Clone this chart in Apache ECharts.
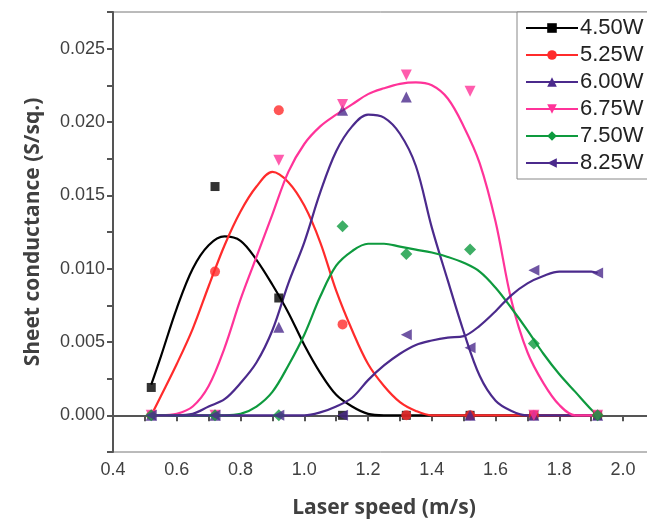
<!DOCTYPE html>
<html>
<head>
<meta charset="utf-8">
<script src="https://cdn.jsdelivr.net/npm/echarts@6/dist/echarts.min.js"></script>
<style>
  html, body { margin: 0; padding: 0; background: #fff; }
  #chart { width: 647px; height: 523px; }
</style>
</head>
<body>
<div id="chart"></div>
<script>
// 测量点 (laser speed, m/s)
var speeds = [0.52, 0.72, 0.92, 1.12, 1.32, 1.52, 1.72, 1.92];
var names = ['4.50W', '5.25W', '6.00W', '6.75W', '7.50W', '8.25W'];

// 测量值 sheet conductance (S/sq.)
var pts450 = [0.0019, 0.0156, 0.0080, 0, 0, 0, 0, 0];
var pts525 = [0, 0.0098, 0.0208, 0.0062, 0, 0, 0, 0];
var pts600 = [0, 0, 0.0060, 0.0208, 0.0217, 0, 0, 0];
var pts675 = [0, 0, 0.0174, 0.0212, 0.0232, 0.0221, 0, 0];
var pts750 = [0, 0, 0, 0.0129, 0.0110, 0.0113, 0.0049, 0];
var pts825 = [0, 0, 0, 0, 0.0055, 0.0046, 0.0099, 0.0097];

// 拟合曲线
var fitX = [0.52, 0.55, 0.60, 0.65, 0.70, 0.75, 0.80, 0.85, 0.90, 0.95, 1.00, 1.05, 1.10, 1.15, 1.20,
  1.25, 1.30, 1.35, 1.40, 1.45, 1.50, 1.55, 1.60, 1.65, 1.70, 1.75, 1.80, 1.85, 1.90, 1.92];
var fit450 = [0.0021, 0.0040, 0.0073, 0.0100, 0.0116, 0.0122, 0.0119, 0.0106, 0.0089, 0.0070, 0.0048, 0.0029, 0.0014, 0.0006, 0.0001,
  0, 0, 0, 0, 0, 0, 0, 0, 0, 0, 0, 0, 0, 0, 0];
var fit525 = [0, 0.0013, 0.0035, 0.0059, 0.0088, 0.0116, 0.0139, 0.0156, 0.0166, 0.0159, 0.0143, 0.0118, 0.0085, 0.0058, 0.0035,
  0.0020, 0.0009, 0.0003, 0, 0, 0, 0, 0, 0, 0, 0, 0, 0, 0, 0];
var fit600 = [0, 0, 0, 0.0001, 0.0006, 0.0011, 0.0022, 0.0036, 0.0058, 0.0090, 0.0118, 0.0152, 0.0180, 0.0197, 0.0205,
  0.0203, 0.0192, 0.0170, 0.0128, 0.0092, 0.0057, 0.0027, 0.0010, 0.0003, 0, 0, 0, 0, 0, 0];
var fit675 = [0, 0, 0.0001, 0.0006, 0.0020, 0.0046, 0.0079, 0.0108, 0.0137, 0.0166, 0.0185, 0.0197, 0.0205, 0.0212, 0.0219,
  0.0223, 0.0226, 0.0227, 0.0225, 0.0216, 0.0197, 0.0172, 0.0132, 0.0078, 0.0043, 0.0022, 0.0007, 0, 0, 0];
var fit750 = [0, 0, 0, 0, 0, 0, 0.0001, 0.0006, 0.0016, 0.0034, 0.0055, 0.0081, 0.0102, 0.0112, 0.0117,
  0.0117, 0.0115, 0.0113, 0.0111, 0.0108, 0.0104, 0.0098, 0.0087, 0.0073, 0.0058, 0.0042, 0.0028, 0.0016, 0.0004, 0];
var fit825 = [0, 0, 0, 0, 0, 0, 0, 0, 0, 0, 0, 0.0002, 0.0006, 0.0012, 0.0024,
  0.0034, 0.0042, 0.0048, 0.0051, 0.0053, 0.0054, 0.0061, 0.0071, 0.0082, 0.0090, 0.0095, 0.0098, 0.0098, 0.0098, 0.0097];

var xTicks = ['0.4', '0.6', '0.8', '1.0', '1.2', '1.4', '1.6', '1.8', '2.0'];

var pts = [pts450, pts525, pts600, pts675, pts750, pts825];
var fits = [fit450, fit525, fit600, fit675, fit750, fit825];
var colors = ['#000000', '#ff2b2b', '#4b2a8c', '#ff3399', '#0e9a3e', '#4b2a8c'];
var symbols = ['rect', 'circle', 'triangle', 'triangle', 'diamond', 'triangle'];
var rotates = [0, 0, 0, 180, 0, 90];
var sizes = [9, 10, 11, 11, 12, 11];

function zip(xs, ys) {
  var arr = [];
  for (var i = 0; i < xs.length; i++) arr.push([xs[i], ys[i]]);
  return arr;
}

var series = [];
// 曲线
for (var i = 0; i < names.length; i++) {
  series.push({
    name: names[i],
    type: 'line',
    data: zip(fitX, fits[i]),
    smooth: 0.35,
    showSymbol: false,
    symbol: symbols[i],
    symbolRotate: rotates[i],
    symbolSize: 8,
    lineStyle: { color: colors[i], width: 2.2 },
    itemStyle: { color: colors[i] },
    z: 2
  });
}
// 点
for (var j = 0; j < names.length; j++) {
  series.push({
    name: names[j],
    type: 'scatter',
    data: zip(speeds, pts[j]),
    symbol: symbols[j],
    symbolRotate: rotates[j],
    symbolSize: sizes[j],
    itemStyle: { color: colors[j] },
    z: 3
  });
}

var tickFont = { fontFamily: 'Liberation Sans', fontSize: 18, color: '#404040' };

var option = {
  animation: false,
  backgroundColor: '#fff',
  grid: {
    left: 113, top: 12, width: 542, height: 440,
    outerBoundsMode: 'none',
    containLabel: false,
    show: true, borderColor: '#777', borderWidth: 1
  },
  legend: {
    data: names,
    orient: 'vertical',
    left: 517, top: 12,
    padding: [5, 8, 5, 8],
    itemWidth: 52, itemHeight: 12, itemGap: 5,
    backgroundColor: '#fff',
    borderColor: '#888', borderWidth: 1, borderRadius: 0,
    textStyle: { fontFamily: 'Liberation Sans', fontSize: 22, lineHeight: 22, color: '#222', padding: [0, 0, 0, -3] }
  },
  xAxis: {
    type: 'value',
    min: 0.4, max: 2.1, interval: 0.1,
    name: 'Laser speed (m/s)',
    nameLocation: 'middle', nameGap: 46,
    nameTextStyle: { fontFamily: 'Open Sans', fontWeight: 'bold', fontSize: 21, color: '#404040' },
    axisLine: { lineStyle: { color: '#555', width: 2 } },
    axisTick: { length: 6, lineStyle: { color: '#555', width: 2 } },
    splitLine: { show: false },
    axisLabel: Object.assign({
      margin: 9,
      formatter: function(v) {
        var s = v.toFixed(1);
        return xTicks.indexOf(s) >= 0 ? s : '';
      }
    }, tickFont)
  },
  yAxis: {
    type: 'value',
    min: -0.0025, max: 0.0275, interval: 0.0025,
    name: 'Sheet conductance (S/sq.)',
    nameLocation: 'middle', nameGap: 69,
    nameTextStyle: { fontFamily: 'Open Sans', fontWeight: 'bold', fontSize: 21, color: '#404040' },
    axisLine: { show: true, lineStyle: { color: '#555', width: 2 } },
    axisTick: { show: true, length: 6, lineStyle: { color: '#555', width: 2 } },
    splitLine: { show: false },
    axisLabel: Object.assign({
      margin: 8,
      formatter: function(v) {
        var k = v / 0.005;
        if (v < -1e-9 || v > 0.0251) return '';
        return Math.abs(k - Math.round(k)) < 1e-6 ? v.toFixed(3) : '';
      }
    }, tickFont)
  },
  series: series
};

var chart = echarts.init(document.getElementById('chart'));
chart.setOption(option);
</script>
</body>
</html>
